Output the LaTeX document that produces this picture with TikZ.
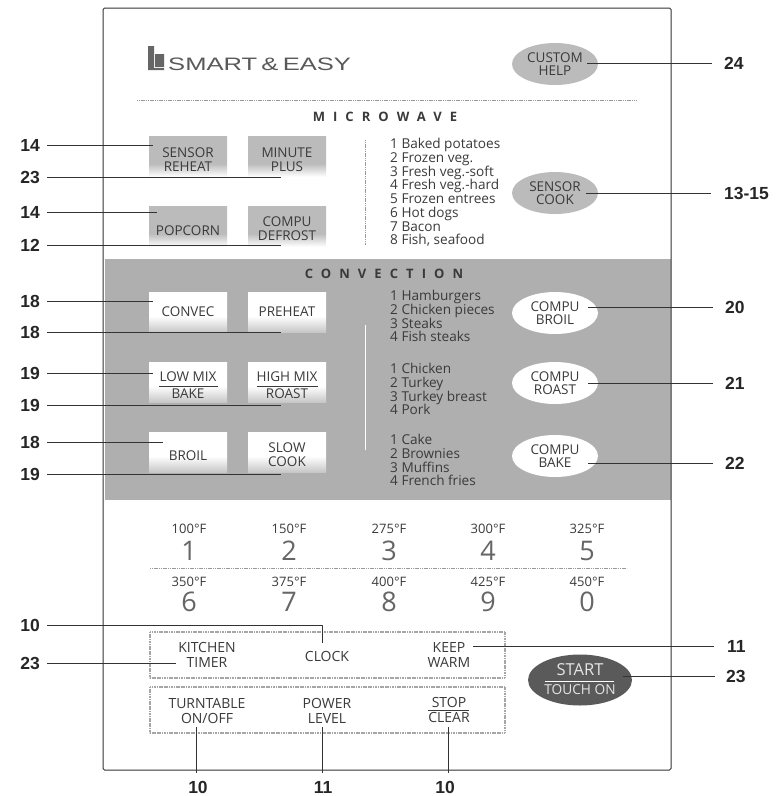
\documentclass[tikz,border=0pt]{standalone}
\usepackage{fontspec}
\setmainfont{Open Sans}
\newfontfamily\labfont{Liberation Sans}
\usetikzlibrary{shapes.geometric}
\definecolor{inkc}{HTML}{3A3A3A}
\definecolor{bandc}{HTML}{AFAFAF}
\definecolor{mwc}{HTML}{BBBBBB}
\definecolor{startc}{HTML}{5A5A5A}
\pgfdeclareverticalshading{mwfade}{100bp}{color(0bp)=(white); color(26bp)=(white); color(42bp)=(mwc); color(100bp)=(mwc)}
\pgfdeclareverticalshading{cvfade}{100bp}{color(0bp)=(bandc!70!white); color(25bp)=(bandc!70!white); color(45bp)=(white); color(100bp)=(white)}
\tikzset{
	leader/.style={line width=0.7pt, black!80},
	numlab/.style={font=\labfont\bfseries\fontsize{17.5}{19}\selectfont, text=black!85, inner sep=0pt},
	btntext/.style={font=\fontsize{13.5}{14}\selectfont, align=center, text=inkc, inner sep=0pt},
	oval/.style={ellipse, minimum width=86pt, minimum height=42pt, inner sep=0pt, font=\fontsize{13.5}{13.5}\selectfont, align=center, text=inkc},
	mwbtn/.style={minimum width=78pt, minimum height=41pt, inner sep=0pt, shading=mwfade},
	cvbtn/.style={minimum width=78pt, minimum height=40pt, inner sep=0pt, shading=cvfade},
	listtext/.style={font=\fontsize{13.6}{13.75}\selectfont, align=left, text=inkc, anchor=north west, inner sep=0pt},
	sectitle/.style={font=\fontsize{13}{14}\bfseries\selectfont\addfontfeature{LetterSpace=62}, text=inkc},
	tempnum/.style={font=\fontsize{13}{13}\selectfont, text=inkc, inner sep=0pt},
	bigdigit/.style={font=\fontsize{27}{30}\selectfont, text=black!60, inner sep=0pt},
	keytext/.style={font=\fontsize{14}{14.5}\selectfont, align=center, text=inkc, inner sep=0pt},
	keybox/.style={draw=black!35, dash pattern=on 1.2pt off 0.5pt, line width=1.5pt},
	dotrule/.style={black!40, dash pattern=on 1.2pt off 0.6pt, line width=1pt},
}
\begin{document}
\begin{tikzpicture}[x=1pt, y=-1pt, line join=round]
	\useasboundingbox (0,0) rectangle (783,796);
	\fill[white] (0,0) rectangle (783,796);
	\fill[bandc] (105,259) rectangle (671,500);
	\draw[line width=1pt, black!80, rounded corners=1.5pt] (103,8) rectangle (671,770);
	% logo
	\fill[black!60] (148,46) rectangle (154,70) (155,54) rectangle (164,67) (148,68) rectangle (164,70);
	\node[anchor=base west, inner sep=0pt, text=black!65] (logo) at (168,70) {\scalebox{1.42}[1]{\fontsize{18}{20}\labfont SMART\,\&\,EASY}};
	\draw[dotrule] (137,100) -- (637,100);
	\node[sectitle] (microwave) at (385,117) {MICROWAVE};
	\node[sectitle] (convection) at (384,274) {CONVECTION};
	% buttons
	\foreach \nm/\cx/\cy/\ty/\txt in {sreheat/188/157/160/{SENSOR\\REHEAT}, mplus/287/157/160/{MINUTE\\PLUS}, popcorn/188/227/231/{POPCORN}, cdefrost/287/227/229/{COMPU\\DEFROST}}{
		\node[mwbtn] (\nm) at (\cx,\cy) {};
		\node[btntext] (\nm txt) at (\cx,\ty) {\txt};
	}
	\foreach \nm/\cx/\cy/\ty/\txt in {convec/188/312/312/{CONVEC}, preheat/287/312/312/{PREHEAT}, lowmix/188/382/385/{LOW MIX\\[3pt]BAKE}, highmix/287/382/385/{HIGH MIX\\[3pt]ROAST}, broil/188/452/456/{BROIL}, slow/287/452/455/{SLOW\\COOK}}{
		\node[cvbtn] (\nm) at (\cx,\cy) {};
		\node[btntext] (\nm txt) at (\cx,\ty) {\txt};
	}
	\draw[inkc, line width=0.8pt] (159,386)--(218,386) (257,386)--(318,386);
	\draw[dotrule, line width=0.8pt] (365,140)--(365,245);
	\draw[white, line width=0.8pt] (365,325)--(365,450);
	% food lists
	\node[listtext] (mwlist) at (390,138) {1 Baked potatoes\\2 Frozen veg.\\3 Fresh veg.-soft\\4 Fresh veg.-hard\\5 Frozen entrees\\6 Hot dogs\\7 Bacon\\8 Fish, seafood};
	\node[listtext] (brlist) at (390,290) {1 Hamburgers\\2 Chicken pieces\\3 Steaks\\4 Fish steaks};
	\node[listtext] (rslist) at (390,363) {1 Chicken\\2 Turkey\\3 Turkey breast\\4 Pork};
	\node[listtext] (bklist) at (390,434) {1 Cake\\2 Brownies\\3 Muffins\\4 French fries};
	% ovals
	\node[oval, fill=mwc] (chelp) at (555,64) {CUSTOM\\HELP};
	\node[oval, fill=mwc] (scook) at (555,193) {SENSOR\\COOK};
	\node[oval, fill=white] (cbroil) at (555,313) {COMPU\\BROIL};
	\node[oval, fill=white] (croast) at (555,383) {COMPU\\ROAST};
	\node[oval, fill=white] (cbake) at (555,456) {COMPU\\BAKE};
	% number pad
	\foreach \cx/\ta/\da/\tb/\db in {189/100/1/350/6, 289/150/2/375/7, 389/275/3/400/8, 488/300/4/425/9, 587/325/5/450/0}{
		\node[tempnum] (t\da) at (\cx,529) {\ta°F};
		\node[bigdigit] (d\da) at (\cx,551) {\da};
		\node[tempnum] (t\db) at (\cx,582) {\tb°F};
		\node[bigdigit] (d\db) at (\cx,602) {\db};
	}
	\draw[dotrule] (150,568) -- (627,568);
	\draw[keybox] (150,632) rectangle (505,678);
	\draw[keybox] (150,687) rectangle (505,733);
	\node[keytext] (ktimer) at (207,655) {KITCHEN\\TIMER};
	\node[keytext] (clock) at (327,656) {CLOCK};
	\node[keytext] (kwarm) at (449,655) {KEEP\\WARM};
	\node[keytext] (turnt) at (207,711) {TURNTABLE\\ON/OFF};
	\node[keytext] (plevel) at (327,711) {POWER\\LEVEL};
	\node[keytext] (stopc) at (449,710) {STOP\\[1pt]CLEAR};
	\draw[inkc, line width=0.8pt] (428,710)--(469,710);
	\node[ellipse, fill=startc, minimum width=104pt, minimum height=51pt, inner sep=0pt] (start) at (580,680) {};
	\node[keytext, text=white!90!black, font=\fontsize{16.5}{18}\selectfont] (starttxt) at (580,670) {START};
	\node[keytext, text=white!90!black, font=\fontsize{13.7}{15}\selectfont] (touchtxt) at (580,690) {TOUCH ON};
	\draw[white, line width=0.8pt] (545,681)--(614,681);
	% left leaders
	\foreach \nm/\txt/\yy/\xe in {la/14/145/153, lb/23/177/281, lc/14/212/157, ld/12/245/281, le/18/301/153, lf/18/332/281, lg/19/373/153, lh/19/405/281, li/18/442/163, lj/19/474/281, ll/23/663/176}{
		\node[numlab, anchor=east] (\nm) at (40,\yy) {\txt};
		\coordinate (\nm end) at (\xe,\yy);
		\draw[leader] (47,\yy) -- (\nm end);
	}
	\node[numlab, anchor=east] (lk) at (40,625) {10};
	\coordinate (lk end) at (322,643);
	\draw[leader] (47,625) -| (lk end);
	% right leaders
	\foreach \nm/\txt/\yy/\xs/\xe/\xl in {ra/24/63/587/712/724, rb/13-15/193/586/711/724, rc/20/307/588/713/725, rd/21/383/588/713/725, re/22/463/588/713/725, rf/11/646/473/714/727, rg/23/676/623/715/726}{
		\node[numlab, anchor=west] (\nm) at (\xl,\yy) {\txt};
		\coordinate (\nm start) at (\xs,\yy);
		\draw[leader] (\nm start) -- (\xe,\yy);
	}
	% bottom leaders
	\foreach \nm/\txt/\xx/\xl in {ba/10/196/198, bb/11/322/323, bc/10/448/445}{
		\node[numlab] (\nm) at (\xl,787) {\txt};
		\coordinate (\nm top) at (\xx,727);
		\draw[leader] (\nm top) -- (\xx,773);
	}
\end{tikzpicture}
\end{document}
